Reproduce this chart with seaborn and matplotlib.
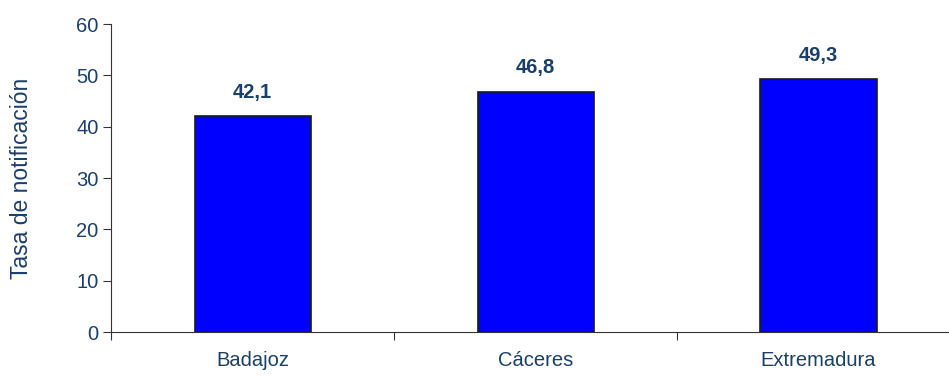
import matplotlib
matplotlib.use("Agg")
import matplotlib.pyplot as plt
import seaborn as sns
import pandas as pd
from matplotlib.ticker import FixedLocator

categorias = ["Badajoz", "Cáceres", "Extremadura"]
tasas = [42.1, 46.8, 49.3]
etiquetas = ["42,1", "46,8", "49,3"]
y_ticks = [0, 10, 20, 30, 40, 50, 60]

txt = "#1B3F6B"

sns.set_style("white")
plt.rcParams["font.family"] = ["Liberation Sans", "DejaVu Sans"]

df = pd.DataFrame({"zona": categorias, "tasa": tasas})

fig = plt.figure(figsize=(9.49, 3.76), dpi=100)
# the category axis runs past the right edge of the picture, as in the original
ax = fig.add_axes([0.117, 0.117, 0.8946, 0.819])

sns.barplot(data=df, x="zona", y="tasa", color="#0000FF", saturation=1,
            width=0.41, edgecolor="#1a1a1a", linewidth=1.2, ax=ax)

for i, (v, lab) in enumerate(zip(tasas, etiquetas)):
    ax.text(i, v + 2.8, lab, ha="center", va="bottom", fontsize=14.5,
            fontweight="bold", color=txt)

ax.set_xlim(-0.5, 2.5)
ax.set_ylim(0, 60)
ax.set_yticks(y_ticks)
ax.xaxis.set_minor_locator(FixedLocator([-0.5, 0.5, 1.5, 2.5]))
ax.tick_params(axis="x", which="major", bottom=False, pad=10, labelsize=14.5, labelcolor=txt)
ax.tick_params(axis="x", which="minor", bottom=True, length=6, width=0.8,
               color="#333333", direction="out")
ax.tick_params(axis="y", left=True, length=6, width=0.8, color="#333333", direction="out",
               labelsize=14.5, labelcolor=txt, pad=3)

for s in ["top", "right"]:
    ax.spines[s].set_visible(False)
for s in ["left", "bottom"]:
    ax.spines[s].set_color("#333333")
    ax.spines[s].set_linewidth(0.8)

ax.set_xlabel("")
ax.set_ylabel("Tasa de notificación", fontsize=16.5, color=txt, labelpad=31)

fig.savefig("out.png", dpi=100)
